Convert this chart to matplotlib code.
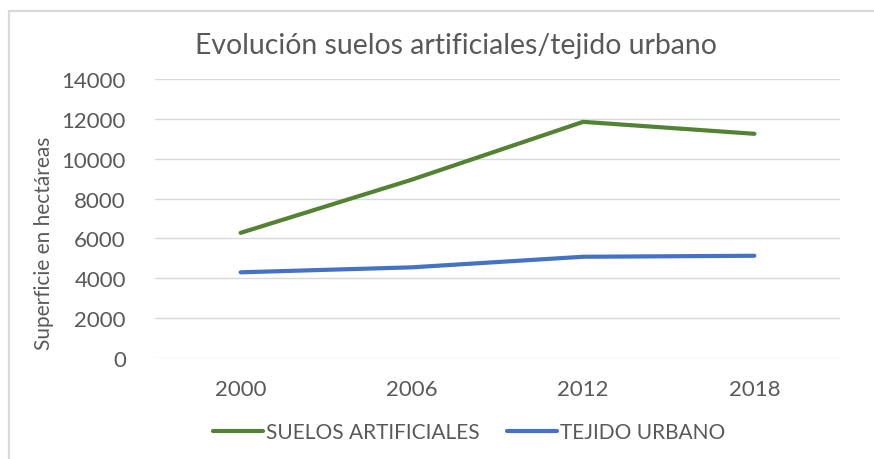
import matplotlib
matplotlib.use("Agg")
import matplotlib.pyplot as plt
from matplotlib.patches import Rectangle

plt.rcParams['font.family'] = ['Lato', 'DejaVu Sans']

# Superficie (ha) por año de inventario
years = ['2000', '2006', '2012', '2018']
suelos_artificiales = [6280, 8950, 11850, 11250]
tejido_urbano = [4300, 4550, 5080, 5130]
y_ticks = [0, 2000, 4000, 6000, 8000, 10000, 12000, 14000]

text_color = '#595959'
green = '#548235'
blue = '#4472C4'
grid_color = '#D9D9D9'

fig = plt.figure(figsize=(8.74, 4.6), dpi=100)
ax = fig.add_axes([155/874, 101/460, 685/874, 279/460])

# marco del gráfico
fig.patches.append(Rectangle((9/874, -0.05), 1.0, 1 - 12/460 + 0.05,
                             transform=fig.transFigure, fill=False,
                             edgecolor=grid_color, linewidth=1.6))

x = range(len(years))
ax.plot(x, suelos_artificiales, color=green, linewidth=3.0,
        solid_capstyle='round', label='SUELOS ARTIFICIALES')
ax.plot(x, tejido_urbano, color=blue, linewidth=3.0,
        solid_capstyle='round', label='TEJIDO URBANO')

ax.set_xlim(-0.5, len(years) - 0.5)
ax.set_ylim(0, 14000)
ax.set_xticks(list(x))
ax.set_xticklabels(years)
ax.set_yticks(y_ticks)
ax.set_yticklabels([str(t) for t in y_ticks])
ax.grid(axis='y', color=grid_color, linewidth=1.0)
ax.set_axisbelow(True)
for s in ax.spines.values():
    s.set_visible(False)
ax.tick_params(axis='both', length=0, labelsize=16, labelcolor=text_color)
ax.tick_params(axis='y', pad=21)
ax.tick_params(axis='x', pad=15)

ax.set_ylabel('Superficie en hectáreas', fontsize=15, color=text_color)
ax.yaxis.set_label_coords(-0.148, 0.416)

fig.text(456/874, 1 - 46/460, 'Evolución suelos artificiales/tejido urbano',
         ha='center', va='center', fontsize=20.4, color=text_color)

leg = fig.legend(loc='center', bbox_to_anchor=(469/874, 1 - 433/460),
                 ncol=2, frameon=False, fontsize=15, handlelength=2.4,
                 handletextpad=0.15, columnspacing=1.3)
for t in leg.get_texts():
    t.set_color(text_color)

fig.savefig('out.png', dpi=100, facecolor='white')
